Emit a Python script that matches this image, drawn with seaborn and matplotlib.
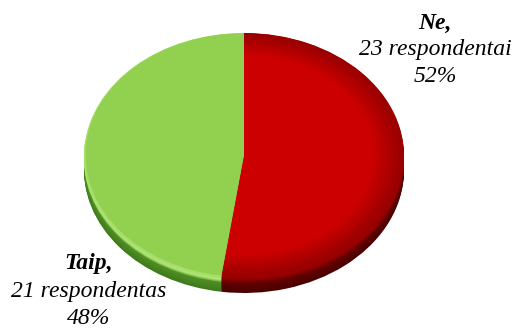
import matplotlib
matplotlib.use("Agg")
import matplotlib.pyplot as plt
import seaborn as sns

# Survey answers
categories = ["Ne", "Taip"]
counts = [23, 21]
count_words = ["respondentai", "respondentas"]
percents = [52, 48]

sns.set_theme(style="white")
plt.rcParams["font.family"] = ["Liberation Serif", "DejaVu Serif"]

W, H = 516, 328
fig = plt.figure(figsize=(W / 100, H / 100), dpi=100)
ax = fig.add_axes([0, 0, 1, 1])

# pie geometry in pixels (top face is an ellipse rx x ry)
RX, RY = 160.0, 123.0
CX, CY = 244.0, 155.0
DEPTH = 15


def px(x, y):
    return x / RX, (H - y) / RY


top_cols = ["#cc0000", "#92d050"]
rim_cols = ["#9a0000", "#b4e67c"]
side_cols = ["#6e0000", "#5a9a2c"]
side_dark = ["#4a0000", "#3f7a1c"]


def draw(colors, dy, radius=1.0):
    ax.pie(counts, colors=colors, startangle=90, counterclock=False,
           radius=radius, center=px(CX, CY + dy),
           wedgeprops=dict(linewidth=0, antialiased=True))


# thickness of the disc
side_red = sns.blend_palette([side_dark[0], side_cols[0]], DEPTH)
side_green = sns.blend_palette([side_dark[1], side_cols[1]], DEPTH)
for i, dy in enumerate(range(DEPTH, 5, -1)):
    draw([side_red[i], side_green[i]], dy)

# bevel between side and top face
bevel_red = sns.blend_palette([side_cols[0], rim_cols[0]], 5)
bevel_green = sns.blend_palette(["#7dbd45", rim_cols[1], "#a6de6a"], 5)
for i, dy in enumerate([5, 4, 3, 2, 1]):
    draw([bevel_red[i], bevel_green[i]], dy)

# top face, red half darkening toward its rim
n = 10
red_grad = sns.blend_palette([rim_cols[0], top_cols[0]], n)
for i in range(n):
    r = 0.99 - 0.02 * i
    draw([red_grad[i], top_cols[1]], 0, radius=r)

ax.set_aspect("auto")
ax.set_xlim(0, W / RX)
ax.set_ylim(0, H / RY)
ax.axis("off")


def label(x, y0, name, n_, word, pct):
    style = dict(ha="center", va="center", fontsize=17, fontstyle="italic",
                 color="black")
    fig.text(x / W, 1 - y0 / H, f"{name},", fontweight="bold", **style)
    fig.text(x / W, 1 - (y0 + 27) / H, f"{n_} {word}", **style)
    fig.text(x / W, 1 - (y0 + 54) / H, f"{pct}%", **style)


label(435, 23, categories[0], counts[0], count_words[0], percents[0])
label(89, 264, categories[1], counts[1], count_words[1], percents[1])

fig.savefig("out.png", dpi=100, facecolor="white")
